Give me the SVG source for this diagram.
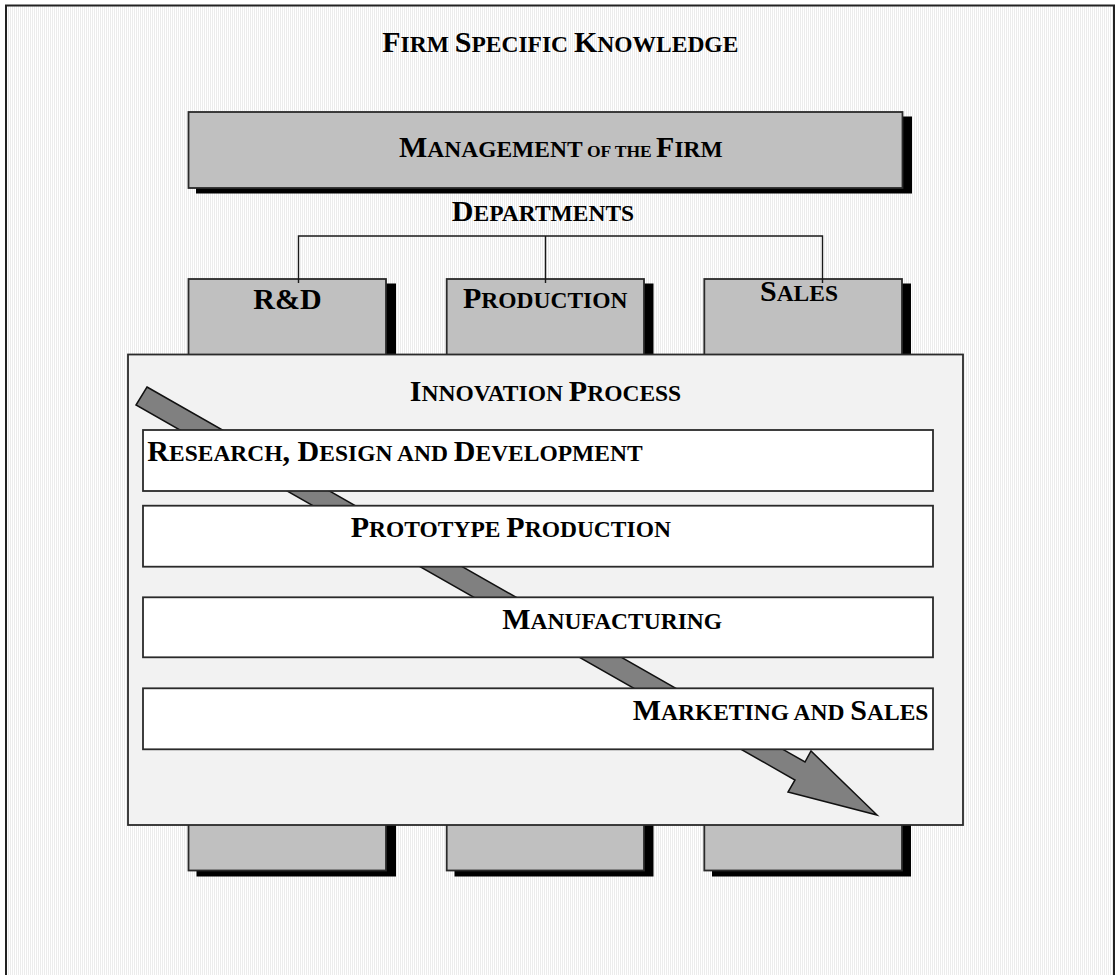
<svg xmlns="http://www.w3.org/2000/svg" width="1117" height="975" viewBox="0 0 1117 975">
<defs>
<pattern id="stripes" x="0" y="0" width="2" height="2" patternUnits="userSpaceOnUse">
<rect x="0" y="0" width="2" height="2" fill="#ffffff"/>
<rect x="0" y="0" width="1" height="2" fill="#ececec"/>
</pattern>
</defs>
<style>
.t{font-family:"Liberation Serif","Times New Roman",serif;font-weight:bold;fill:#000;font-size:30px}
.s{font-size:23.5px}
.xs{font-size:17.5px}
.dept{fill:#c0c0c0;stroke:#2a2a2a;stroke-width:1.8}
.shadow{fill:#000}
.step{fill:#ffffff;stroke:#2a2a2a;stroke-width:1.8}
.conn{fill:none;stroke:#1a1a1a;stroke-width:1.4}
</style>
<rect x="0" y="0" width="1117" height="975" fill="#ffffff"/>
<g id="frame">
<rect x="6" y="5.5" width="1108" height="980" fill="url(#stripes)" stroke="#222" stroke-width="2"/>
<text class="t" x="560.3" y="51.7" text-anchor="middle">F<tspan class="s">IRM </tspan>S<tspan class="s">PECIFIC </tspan>K<tspan class="s">NOWLEDGE</tspan></text>
</g>
<g id="management">
<rect class="shadow" x="196" y="116.5" width="716" height="77"/>
<rect class="dept" x="188.5" y="112" width="714" height="76"/>
<text class="t" x="560.8" y="156.7" text-anchor="middle">M<tspan class="s">ANAGEMENT</tspan><tspan class="xs"> OF THE </tspan>F<tspan class="s">IRM</tspan></text>
</g>
<g id="departments-label">
<text class="t" x="543" y="220.5" text-anchor="middle">D<tspan class="s">EPARTMENTS</tspan></text>
</g>
<g id="dept-rd">
<rect class="shadow" x="196.5" y="283.5" width="199.5" height="593"/>
<rect class="dept" x="188.5" y="279" width="197.5" height="591.5"/>
<text class="t" x="287.5" y="309" text-anchor="middle">R&amp;D</text>
</g>
<g id="dept-production">
<rect class="shadow" x="454.5" y="283.5" width="199" height="593"/>
<rect class="dept" x="446.7" y="279" width="197.3" height="591.5"/>
<text class="t" x="545.2" y="307.7" text-anchor="middle">P<tspan class="s">RODUCTION</tspan></text>
</g>
<g id="dept-sales">
<rect class="shadow" x="712" y="283.5" width="199" height="593"/>
<rect class="dept" x="704.3" y="279" width="197.7" height="591.5"/>
<text class="t" x="799" y="301" text-anchor="middle">S<tspan class="s">ALES</tspan></text>
</g>
<g id="connectors">
<polyline class="conn" points="298.5,283 298.5,236 822.5,236 822.5,283"/>
<line class="conn" x1="545.5" y1="236" x2="545.5" y2="283"/>
</g>
<g id="innovation-process">
<rect x="128" y="354.5" width="835" height="470.5" fill="#f2f2f2" stroke="#2a2a2a" stroke-width="1.8"/>
<text class="t" x="545.5" y="400.7" text-anchor="middle">I<tspan class="s">NNOVATION </tspan>P<tspan class="s">ROCESS</tspan></text>
</g>
<g id="flow-arrow">
<polygon points="147,387 805,762 811,751 877,815 788,792 795,780 136,405" fill="#808080" stroke="#111" stroke-width="1.5" stroke-linejoin="miter"/>
</g>
<g id="step-research">
<rect class="step" x="143" y="430" width="790" height="61"/>
<text class="t" x="147.3" y="460.7">R<tspan class="s">ESEARCH</tspan>, D<tspan class="s">ESIGN AND </tspan>D<tspan class="s">EVELOPMENT</tspan></text>
</g>
<g id="step-prototype">
<rect class="step" x="143" y="505.7" width="790" height="61"/>
<text class="t" x="510.8" y="537.3" text-anchor="middle">P<tspan class="s">ROTOTYPE </tspan>P<tspan class="s">RODUCTION</tspan></text>
</g>
<g id="step-manufacturing">
<rect class="step" x="143" y="597.3" width="790" height="60"/>
<text class="t" x="612.2" y="629" text-anchor="middle">M<tspan class="s">ANUFACTURING</tspan></text>
</g>
<g id="step-marketing">
<rect class="step" x="143" y="688.3" width="790" height="61"/>
<text class="t" x="780.5" y="720" text-anchor="middle">M<tspan class="s">ARKETING AND </tspan>S<tspan class="s">ALES</tspan></text>
</g>
</svg>
